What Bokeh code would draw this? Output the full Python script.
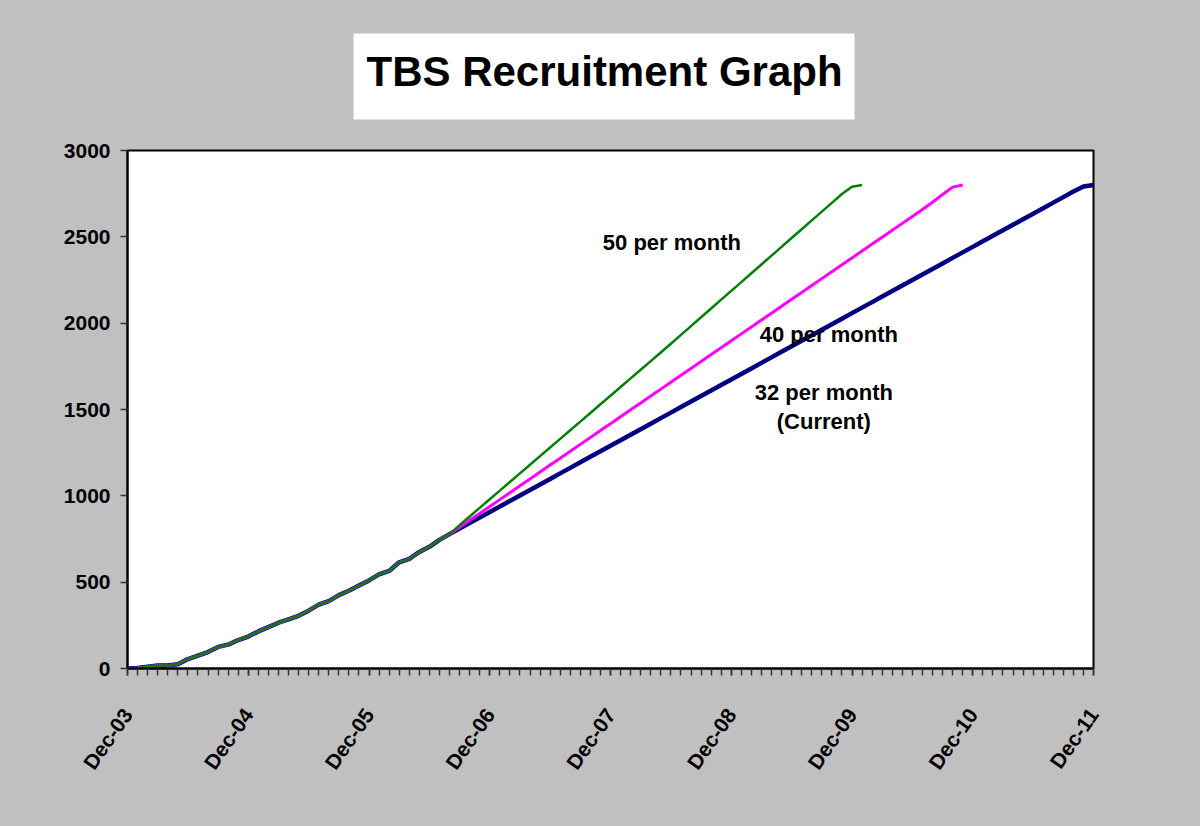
import math
from bokeh.plotting import figure
from bokeh.models import Label, FixedTicker, Range1d
from bokeh.embed import file_html
from bokeh.resources import INLINE

# ---- data ----
tick_months = [0, 12, 24, 36, 48, 60, 72, 84, 96]
tick_labels = ["Dec-03", "Dec-04", "Dec-05", "Dec-06", "Dec-07",
               "Dec-08", "Dec-09", "Dec-10", "Dec-11"]

# actual recruitment, Dec-03 .. Aug-06 (months 0..32)
history = [0, 3, 10, 17, 18, 25, 55, 75, 95, 125, 138, 165, 185, 215, 240,
           265, 285, 305, 335, 370, 390, 425, 450, 480, 510, 545, 565, 615,
           635, 675, 705, 745, 778]

proj_50 = [830, 880, 930, 980, 1030, 1080, 1130, 1180, 1230, 1280,
           1330, 1380, 1430, 1480, 1530, 1580, 1630, 1680, 1730, 1780,
           1830, 1881, 1932, 1983, 2034, 2085, 2136, 2187, 2238, 2289,
           2340, 2391, 2442, 2493, 2544, 2595, 2646, 2697, 2748, 2790, 2800]

proj_40 = [818, 858, 898, 938, 978, 1018, 1058, 1098, 1138, 1178,
           1218, 1258, 1298, 1338, 1378, 1418, 1458, 1498, 1538, 1578,
           1618, 1658, 1698, 1738, 1778, 1818, 1858, 1898, 1938, 1978,
           2018, 2058, 2098, 2138, 2178, 2218, 2258, 2298, 2338, 2378,
           2418, 2458, 2498, 2538, 2578, 2618, 2658, 2700, 2745, 2788, 2800]

proj_32 = [810, 842, 874, 906, 938, 970, 1002, 1034, 1066, 1098,
           1130, 1162, 1194, 1226, 1258, 1290, 1322, 1354, 1386, 1418,
           1450, 1482, 1514, 1546, 1578, 1610, 1642, 1674, 1706, 1738,
           1770, 1802, 1834, 1866, 1898, 1930, 1962, 1994, 2026, 2058,
           2090, 2122, 2154, 2186, 2218, 2250, 2282, 2314, 2346, 2378,
           2410, 2442, 2474, 2506, 2538, 2570, 2602, 2634, 2666, 2698,
           2730, 2762, 2792, 2800]

series_names = ["32 per month", "40 per month", "50 per month"]
title_text = "TBS Recruitment Graph"

FONT = "Liberation Sans"
GRAY = "#C0C0C0"

p = figure(width=1184, height=810, output_backend="svg", toolbar_location=None,
           x_range=Range1d(0, 96), y_range=Range1d(0, 3000),
           min_border_left=127, min_border_right=91,
           min_border_top=150, min_border_bottom=142)
p.background_fill_color = "white"
p.border_fill_color = GRAY
p.outline_line_color = "black"
p.outline_line_width = 2
p.xgrid.visible = False
p.ygrid.visible = False

# title in a white box
p.title.text = title_text
p.title.align = "left"
p.title.offset = 226
p.title.standoff = 62
p.title.text_font = FONT
p.title.text_font_style = "bold"
p.title.text_font_size = "42px"
p.title.text_color = "black"
p.title.background_fill_color = "white"
p.title.padding = (13, 12, 14, 25)

# axes
p.xaxis.ticker = FixedTicker(ticks=tick_months, minor_ticks=list(range(97)))
p.xaxis.major_label_overrides = {m: l for m, l in zip(tick_months, tick_labels)}
p.xaxis.major_label_orientation = math.radians(55)
p.yaxis.ticker = FixedTicker(ticks=[0, 500, 1000, 1500, 2000, 2500, 3000])
for ax in (p.xaxis, p.yaxis):
    ax.axis_line_color = "black"
    ax.axis_line_width = 2
    ax.major_tick_in = 0
    ax.major_tick_out = 7
    ax.minor_tick_in = 0
    ax.minor_tick_out = 7
    ax.major_tick_line_color = "#333333"
    ax.minor_tick_line_color = "#333333"
    ax.major_tick_line_width = 1.5
    ax.minor_tick_line_width = 1.5
    ax.major_label_text_font = FONT
    ax.major_label_text_font_style = "bold"
    ax.major_label_text_font_size = "21px"
    ax.major_label_text_color = "black"
p.yaxis.minor_tick_line_color = None
p.yaxis.major_label_standoff = 10
p.xaxis.major_label_standoff = 35

def xs(n):
    return list(range(n))

s32 = history + proj_32
s40 = history + proj_40
s50 = history + proj_50
p.line(xs(len(s32)), s32, line_color="#000080", line_width=4.5, line_join="round")
p.line(xs(len(s40)), s40, line_color="#FF00FF", line_width=3, line_join="round")
p.line(xs(len(s50)), s50, line_color="#008000", line_width=2.5, line_join="round")

def note(x, y, t):
    p.add_layout(Label(x=x, y=y, text=t, text_font=FONT, text_font_style="bold",
                       text_font_size="22px", text_align="center", text_baseline="middle",
                       text_color="black"))

note(54.1, 2467, series_names[2])
note(69.7, 1934, series_names[1])
note(69.2, 1598, series_names[0])
note(69.2, 1430, "(Current)")

html = file_html(p, INLINE)
i = html.rfind("<body")
html = html[:i] + '<body style="background-color:#C0C0C0;"' + html[i + len("<body"):]
open("out.html", "w").write(html)
